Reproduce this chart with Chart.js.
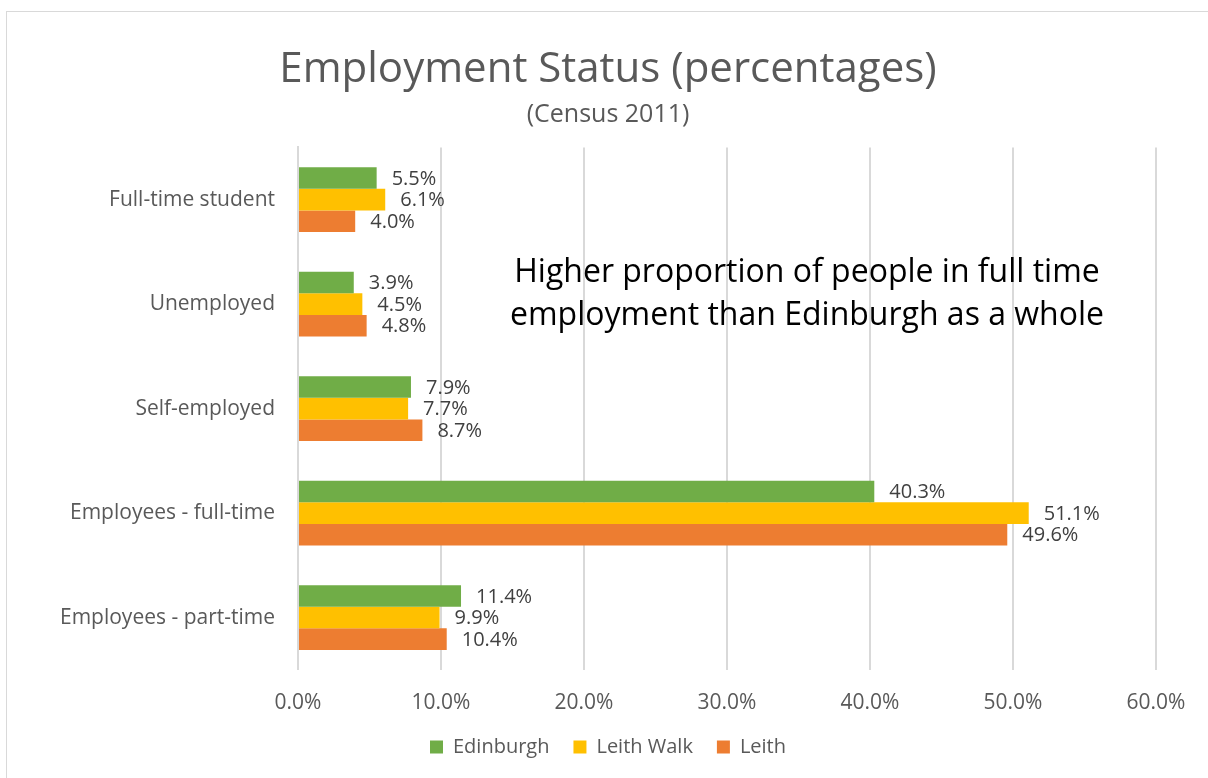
<!DOCTYPE html>
<html>
<head>
<meta charset="utf-8">
<script src="https://cdn.jsdelivr.net/npm/chart.js@4.4.0/dist/chart.umd.min.js"></script>
<style>
  html, body { margin: 0; padding: 0; background: #fff; }
  #wrap { position: relative; width: 1208px; height: 778px; overflow: hidden; }
  #frame { position: absolute; left: 6px; top: 11px; width: 1220px; height: 800px; border: 1px solid #d9d9d9; box-sizing: border-box; }
  #c { position: absolute; left: 0; top: 0; }
</style>
</head>
<body>
<div id="wrap">
  <div id="frame"></div>
  <canvas id="c" width="1208" height="778"></canvas>
</div>
<script>
const categories = ["Full-time student", "Unemployed", "Self-employed", "Employees - full-time", "Employees - part-time"];
const seriesNames = ["Edinburgh", "Leith Walk", "Leith"];
const edinburgh = [5.5, 3.9, 7.9, 40.3, 11.4];
const leithWalk = [6.1, 4.5, 7.7, 51.1, 9.9];
const leith = [4.0, 4.8, 8.7, 49.6, 10.4];
const seriesColors = ["#70AD47", "#FFC000", "#ED7D31"];
const xTicks = [0, 10, 20, 30, 40, 50, 60];
const titleText = "Employment Status (percentages)";
const subtitleText = "(Census 2011)";
const noteLines = ["Higher proportion of people in full time", "employment than Edinburgh as a whole"];

const FONT = "'Open Sans', 'Noto Sans', sans-serif";

const valueLabels = {
  id: 'valueLabels',
  afterDatasetsDraw(chart) {
    const ctx = chart.ctx;
    ctx.save();
    ctx.font = "20px " + FONT;
    ctx.fillStyle = "#404040";
    ctx.textAlign = "left";
    ctx.textBaseline = "middle";
    chart.data.datasets.forEach((ds, i) => {
      const meta = chart.getDatasetMeta(i);
      meta.data.forEach((bar, j) => {
        ctx.fillText(ds.data[j].toFixed(1) + "%", bar.x + 15, bar.y + 1);
      });
    });
    ctx.restore();
  }
};

const note = {
  id: 'note',
  afterDraw(chart) {
    const ctx = chart.ctx;
    ctx.save();
    ctx.font = "32px " + FONT;
    ctx.fillStyle = "#000000";
    ctx.textAlign = "center";
    ctx.textBaseline = "middle";
    ctx.fillText(noteLines[0], 807, 273);
    ctx.fillText(noteLines[1], 807, 316);
    ctx.restore();
  }
};

new Chart(document.getElementById('c'), {
  type: 'bar',
  data: {
    labels: categories,
    datasets: [
      { label: seriesNames[0], data: edinburgh, backgroundColor: seriesColors[0] },
      { label: seriesNames[1], data: leithWalk, backgroundColor: seriesColors[1] },
      { label: seriesNames[2], data: leith, backgroundColor: seriesColors[2] }
    ]
  },
  options: {
    indexAxis: 'y',
    responsive: false,
    animation: false,
    devicePixelRatio: 1,
    categoryPercentage: 0.62,
    barPercentage: 1.0,
    layout: { padding: { top: 45, right: 52, bottom: 11, left: 60 } },
    plugins: {
      title: {
        display: true, text: titleText, color: "#595959",
        font: { family: FONT, size: 42, weight: 'normal' },
        padding: { top: 0, bottom: 4 }
      },
      subtitle: {
        display: true, text: subtitleText, color: "#595959",
        font: { family: FONT, size: 25, weight: 'normal' },
        padding: { top: 0, bottom: 18 }
      },
      legend: {
        position: 'bottom',
        labels: {
          boxWidth: 13, boxHeight: 13, color: "#595959",
          font: { family: FONT, size: 20 }, padding: 24
        }
      },
      tooltip: { enabled: false }
    },
    scales: {
      x: {
        min: 0, max: 60,
        afterBuildTicks(scale) { scale.ticks = xTicks.map(v => ({ value: v })); },
        afterFit(scale) { scale.height -= 24; },
        ticks: {
          color: "#595959", font: { family: FONT, size: 21 }, padding: 21,
          callback: (v) => Number(v).toFixed(1) + "%"
        },
        grid: { color: "#d9d9d9", lineWidth: 2, drawTicks: false },
        border: { display: false }
      },
      y: {
        afterFit(scale) { scale.width = 238; },
        ticks: { color: "#595959", font: { family: FONT, size: 21 }, padding: 23 },
        grid: { display: false, drawTicks: false },
        border: { display: true, color: "#d9d9d9", width: 2 }
      }
    }
  },
  plugins: [valueLabels, note]
});
</script>
</body>
</html>
